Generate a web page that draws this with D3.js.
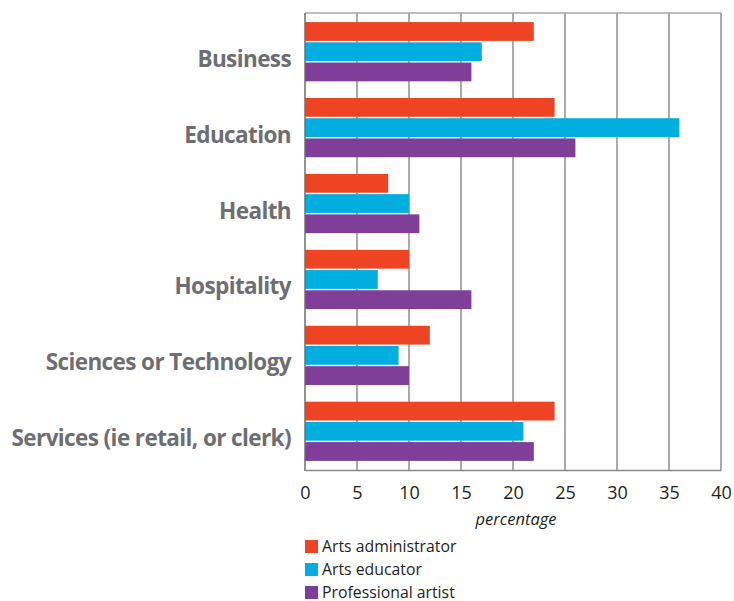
<!DOCTYPE html>
<html>
<head>
<meta charset="utf-8">
<script src="https://cdn.jsdelivr.net/npm/d3@7"></script>
<style>
  html, body { margin: 0; padding: 0; background: #fff; }
  svg { display: block; }
</style>
</head>
<body>
<svg id="chart" width="734" height="601"></svg>
<script>
// Occupation sectors, top to bottom
const categories = [
  "Business",
  "Education",
  "Health",
  "Hospitality",
  "Sciences or Technology",
  "Services (ie retail, or clerk)"
];
const seriesNames = ["Arts administrator", "Arts educator", "Professional artist"];
const artsAdministrator = [22, 24, 8, 10, 12, 24];
const artsEducator      = [17, 36, 10, 7, 9, 21];
const professionalArtist = [16, 26, 11, 16, 10, 22];
const xTicks = [0, 5, 10, 15, 20, 25, 30, 35, 40];
const seriesColors = ["#ee4424", "#00aedf", "#7f3f98"];

const seriesValues = [artsAdministrator, artsEducator, professionalArtist];
const rows = categories.map((c, i) => ({
  category: c,
  values: seriesNames.map((s, k) => ({ series: s, k, value: seriesValues[k][i] }))
}));

const svg = d3.select("#chart");
const plot = { left: 305, right: 721, top: 13, bottom: 470 };

const x = d3.scaleLinear().domain([0, 40]).range([plot.left, plot.right]);
const y0 = d3.scaleBand().domain(categories).range([plot.top, plot.bottom])
  .paddingInner(0.22).paddingOuter(0.12);
const y1 = d3.scaleBand().domain(seriesNames).range([0, y0.bandwidth()]).paddingInner(0.07);

// vertical gridlines
svg.append("g").selectAll("line").data(xTicks.slice(1)).join("line")
  .attr("x1", d => x(d)).attr("x2", d => x(d))
  .attr("y1", plot.top).attr("y2", plot.bottom)
  .attr("stroke", "#7d7d7d").attr("stroke-width", 1.3);

// top frame line
svg.append("line")
  .attr("x1", plot.left).attr("x2", plot.right)
  .attr("y1", plot.top).attr("y2", plot.top)
  .attr("stroke", "#a8a8a8").attr("stroke-width", 1.5);

// bars
const groups = svg.append("g").selectAll("g").data(rows).join("g")
  .attr("transform", d => `translate(0,${y0(d.category)})`);
groups.selectAll("rect").data(d => d.values).join("rect")
  .attr("x", x(0))
  .attr("y", d => y1(d.series))
  .attr("width", d => x(d.value) - x(0))
  .attr("height", y1.bandwidth())
  .attr("fill", d => seriesColors[d.k]);

// x axis
const xAxis = svg.append("g")
  .attr("transform", `translate(0,${plot.bottom})`)
  .call(d3.axisBottom(x).tickValues(xTicks).tickSize(0).tickPadding(16));
xAxis.select(".domain").attr("stroke", "#8a8a8a").attr("stroke-width", 1.5);
xAxis.selectAll("text")
  .attr("fill", "#231f20")
  .style("font-family", "'Open Sans', sans-serif")
  .style("font-size", "18px");

// y axis line
svg.append("line")
  .attr("x1", plot.left).attr("x2", plot.left)
  .attr("y1", plot.top).attr("y2", plot.bottom + 1)
  .attr("stroke", "#6e6e6e").attr("stroke-width", 1.5);

// category labels
svg.append("g").selectAll("text").data(categories).join("text")
  .attr("x", 291)
  .attr("y", d => y0(d) + y0.bandwidth() / 2 + 15)
  .attr("text-anchor", "end")
  .attr("fill", "#6d6e71")
  .style("font-family", "'Open Sans', sans-serif")
  .style("font-weight", 700)
  .style("font-size", "22.5px")
  .style("letter-spacing", "-0.6px")
  .text(d => d);

// axis title
svg.append("text")
  .attr("x", (plot.left + plot.right) / 2 + 3)
  .attr("y", 525)
  .attr("text-anchor", "middle")
  .attr("fill", "#231f20")
  .style("font-family", "'Open Sans', sans-serif")
  .style("font-style", "italic")
  .style("font-size", "16.5px")
  .text("percentage");

// legend
const legend = svg.append("g").selectAll("g").data(seriesNames).join("g")
  .attr("transform", (d, i) => `translate(305,${540 + i * 23})`);
legend.append("rect")
  .attr("width", 13).attr("height", 13)
  .attr("fill", (d, i) => seriesColors[i]);
legend.append("text")
  .attr("x", 17).attr("y", 11.5)
  .attr("fill", "#231f20")
  .style("font-family", "'Open Sans', sans-serif")
  .style("font-size", "15.8px")
  .text(d => d);
</script>
</body>
</html>
